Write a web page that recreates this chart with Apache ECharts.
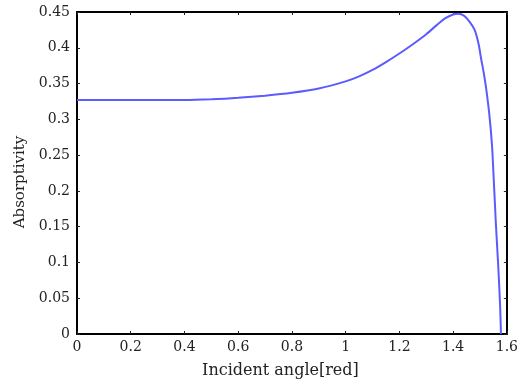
<!DOCTYPE html>
<html>
<head>
<meta charset="utf-8">
<script src="https://cdn.jsdelivr.net/npm/echarts@6/dist/echarts.min.js"></script>
<style>html,body{margin:0;padding:0;background:#fff;}#c{width:521px;height:385px;}</style>
</head>
<body>
<div id="c"></div>
<script>
var xTicks = [0, 0.2, 0.4, 0.6, 0.8, 1, 1.2, 1.4, 1.6];
var yTicks = [0, 0.05, 0.1, 0.15, 0.2, 0.25, 0.3, 0.35, 0.4, 0.45];
var angle = [0, 0.2, 0.4, 0.5, 0.6, 0.7, 0.8, 0.9, 1.0, 1.05, 1.1, 1.15, 1.2, 1.25, 1.3, 1.34, 1.37, 1.4, 1.42, 1.44, 1.46, 1.48, 1.495, 1.504, 1.514, 1.523, 1.535, 1.545, 1.55, 1.559, 1.568, 1.575, 1.578];
var absorptivity = [0.327, 0.327, 0.327, 0.328, 0.330, 0.333, 0.337, 0.343, 0.353, 0.360, 0.369, 0.380, 0.392, 0.405, 0.419, 0.432, 0.441, 0.4465, 0.4475, 0.445, 0.437, 0.425, 0.405, 0.385, 0.365, 0.343, 0.306, 0.262, 0.225, 0.155, 0.094, 0.038, 0];

var pts = angle.map(function (a, i) { return [a, absorptivity[i]]; });
var font = 'DejaVu Serif';
var chart = echarts.init(document.getElementById('c'), null, {renderer: 'canvas'});
var axLine = {show: true, onZero: false, lineStyle: {color: '#000', width: 2}};
var tick = {show: true, inside: true, length: 3, lineStyle: {color: '#222', width: 1}};
function fmt(list) {
  return function (v) { var i = list.findIndex(function (t) { return Math.abs(t - v) < 1e-6; }); return i >= 0 ? String(list[i]) : ''; };
}
chart.setOption({
  animation: false,
  grid: {left: 77, right: 10, top: 12, bottom: 51, containLabel: false},
  xAxis: [{
    type: 'value', position: 'bottom', min: xTicks[0], max: xTicks[xTicks.length - 1], interval: 0.2,
    axisLine: axLine, axisTick: tick, splitLine: {show: false},
    axisLabel: {show: true, margin: 6, color: '#222', fontFamily: font, fontSize: 14, formatter: fmt(xTicks)},
    name: 'Incident angle[red]', nameLocation: 'middle', nameGap: 29,
    nameTextStyle: {color: '#222', fontFamily: font, fontSize: 16, padding: [0, 23, 0, 0]}
  }, {
    type: 'value', position: 'top', min: xTicks[0], max: xTicks[xTicks.length - 1], interval: 0.2,
    axisLine: axLine, axisTick: tick, axisLabel: {show: false}, splitLine: {show: false}
  }],
  yAxis: [{
    type: 'value', position: 'left', min: yTicks[0], max: yTicks[yTicks.length - 1], interval: 0.05,
    axisLine: axLine, axisTick: tick, splitLine: {show: false},
    axisLabel: {show: true, margin: 7, color: '#222', fontFamily: font, fontSize: 14, formatter: fmt(yTicks)},
    name: 'Absorptivity', nameLocation: 'middle', nameGap: 49,
    nameTextStyle: {color: '#222', fontFamily: font, fontSize: 15, padding: [0, 18, 0, 0]}
  }, {
    type: 'value', position: 'right', min: yTicks[0], max: yTicks[yTicks.length - 1], interval: 0.05,
    axisLine: axLine, axisTick: tick, axisLabel: {show: false}, splitLine: {show: false}
  }],
  series: [{
    type: 'line', data: pts, xAxisIndex: 0, yAxisIndex: 0,
    showSymbol: false, smooth: 0.2,
    lineStyle: {color: '#5b5bff', width: 2}
  }]
});
</script>
</body>
</html>
